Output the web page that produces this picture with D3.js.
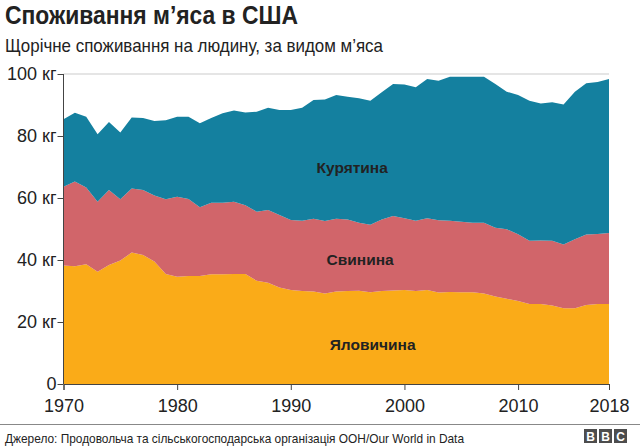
<!DOCTYPE html>
<html>
<head>
<meta charset="utf-8">
<script src="https://cdn.jsdelivr.net/npm/d3@7"></script>
<style>
  body { margin: 0; background: #fff; }
  svg { display: block; font-family: "Liberation Sans", Arial, Helvetica, sans-serif; }
</style>
</head>
<body>
<svg width="640" height="448"></svg>
<script>
// years on the x axis
const years = d3.range(1970, 2019)

// kg per person per year
const beef = [38.2, 38.0, 38.6, 36.2, 38.4, 39.8, 42.4, 41.6, 39.5, 35.5,
  34.6, 34.8, 34.8, 35.4, 35.4, 35.5, 35.5, 33.3, 32.7, 31.1,
  30.3, 30.0, 29.8, 29.2, 29.8, 30.0, 30.1, 29.6, 30.0, 30.2,
  30.3, 30.0, 30.3, 29.5, 29.7, 29.6, 29.6, 29.2, 28.2, 27.5,
  26.8, 25.8, 25.8, 25.3, 24.4, 24.4, 25.5, 25.8, 25.8]
const pork = [25.4, 27.3, 24.8, 22.6, 24.2, 19.8, 20.7, 21.0, 21.3, 24.1,
  25.8, 24.9, 22.2, 23.1, 23.1, 23.3, 22.2, 22.3, 23.4, 23.4,
  22.6, 22.7, 23.5, 23.4, 23.5, 23.1, 21.9, 21.8, 23.1, 24.0,
  23.2, 22.7, 23.2, 23.3, 23.0, 22.7, 22.4, 22.8, 22.2, 22.4,
  21.5, 20.4, 20.5, 20.9, 20.6, 22.3, 22.7, 22.6, 22.9]
const poultry = [21.8, 22.2, 22.8, 21.8, 21.9, 21.5, 22.9, 23.2, 24.0, 25.5,
  25.8, 26.5, 27.1, 27.3, 28.8, 29.4, 29.9, 32.2, 33.0, 33.9,
  35.5, 36.4, 38.3, 39.2, 39.9, 39.6, 40.2, 40.0, 41.0, 42.6,
  43.1, 43.0, 44.9, 45.0, 46.4, 46.8, 47.1, 47.1, 46.4, 44.4,
  44.9, 45.2, 44.2, 44.7, 45.2, 47.6, 48.8, 49.0, 49.7]

const seriesKeys = ['beef', 'pork', 'poultry']
const seriesLabels = ['Яловичина', 'Свинина', 'Курятина']
const seriesColors = ['#faab18', '#d1656a', '#14809f']
// where each label sits (year, kg)
const labelAt = [[1997.2, 11], [1996.1, 38.4], [1995.4, 68.1]]

const yTicks = [0, 20, 40, 60, 80, 100]
const xTicks = [1970, 1980, 1990, 2000, 2010, 2018]

const rows = years.map((y, i) => ({ year: y, beef: beef[i], pork: pork[i], poultry: poultry[i] }))

const svg = d3.select('svg')

const x = d3.scaleLinear().domain([1970, 2018]).range([63.5, 609])
const y = d3.scaleLinear().domain([0, 100]).range([384, 74])

// top gridline
svg.append('line')
  .attr('x1', x(1970)).attr('x2', x(2018))
  .attr('y1', y(100)).attr('y2', y(100))
  .attr('stroke', '#dcdcdc').attr('stroke-width', 1.5)

const stack = d3.stack().keys(seriesKeys)
const area = d3.area()
  .x(d => x(d.data.year))
  .y0(d => y(d[0]))
  .y1(d => y(d[1]))

svg.append('g')
  .selectAll('path')
  .data(stack(rows))
  .join('path')
  .attr('fill', (d, i) => seriesColors[i])
  .attr('d', area)

// axes
const yAxis = d3.axisLeft(y)
  .tickValues(yTicks)
  .tickSize(6)
  .tickPadding(1)
  .tickFormat(d => d === 0 ? '0' : d + ' кг')

const xAxis = d3.axisBottom(x)
  .tickValues(xTicks)
  .tickSize(6)
  .tickPadding(9)
  .tickFormat(d3.format('d'))

const gy = svg.append('g')
  .attr('transform', `translate(${x(1970)},0)`)
  .call(yAxis)
gy.select('.domain').remove()
gy.append('line')
  .attr('y1', y(100)).attr('y2', y(0))
  .attr('stroke', '#444')

const gx = svg.append('g')
  .attr('transform', `translate(0,${y(0)})`)
  .call(xAxis)
gx.select('.domain').attr('stroke', '#444')

svg.selectAll('.tick line').attr('stroke', '#444')
svg.selectAll('.tick text')
  .attr('fill', '#222')
  .style('font-size', '18px')
  .style('font-family', '"Liberation Sans", Arial, sans-serif')

// labels inside the areas
svg.append('g')
  .selectAll('text')
  .data(seriesLabels)
  .join('text')
  .attr('x', (d, i) => x(labelAt[i][0]))
  .attr('y', (d, i) => y(labelAt[i][1]))
  .attr('text-anchor', 'middle')
  .attr('fill', '#222')
  .style('font-size', '15.5px')
  .style('font-weight', 'bold')
  .text(d => d)

// title block
svg.append('text')
  .attr('x', 5).attr('y', 24)
  .attr('fill', '#222')
  .attr('textLength', 293)
  .attr('lengthAdjust', 'spacingAndGlyphs')
  .style('font-size', '26px')
  .style('font-weight', 'bold')
  .text('Споживання м’яса в США')

svg.append('text')
  .attr('x', 5).attr('y', 52)
  .attr('fill', '#222')
  .attr('textLength', 378)
  .attr('lengthAdjust', 'spacingAndGlyphs')
  .style('font-size', '19px')
  .text('Щорічне споживання на людину, за видом м’яса')

// footer
svg.append('line')
  .attr('x1', 0).attr('x2', 640)
  .attr('y1', 424.5).attr('y2', 424.5)
  .attr('stroke', '#888')

svg.append('text')
  .attr('x', 5).attr('y', 443)
  .attr('fill', '#222')
  .attr('textLength', 459)
  .attr('lengthAdjust', 'spacingAndGlyphs')
  .style('font-size', '13.5px')
  .text('Джерело: Продовольча та сільськогосподарська організація ООН/Our World in Data')

const logo = svg.append('g').attr('transform', 'translate(584,429)')
const letters = ['B', 'B', 'C']
logo.selectAll('rect')
  .data(letters)
  .join('rect')
  .attr('x', (d, i) => i * 15)
  .attr('width', 13).attr('height', 14)
  .attr('fill', '#4d4d4d')
logo.selectAll('text')
  .data(letters)
  .join('text')
  .attr('x', (d, i) => i * 15 + 6.5)
  .attr('y', 12)
  .attr('text-anchor', 'middle')
  .attr('fill', '#fff')
  .style('font-size', '12px')
  .style('font-weight', 'bold')
  .text(d => d)
</script>
</body>
</html>
